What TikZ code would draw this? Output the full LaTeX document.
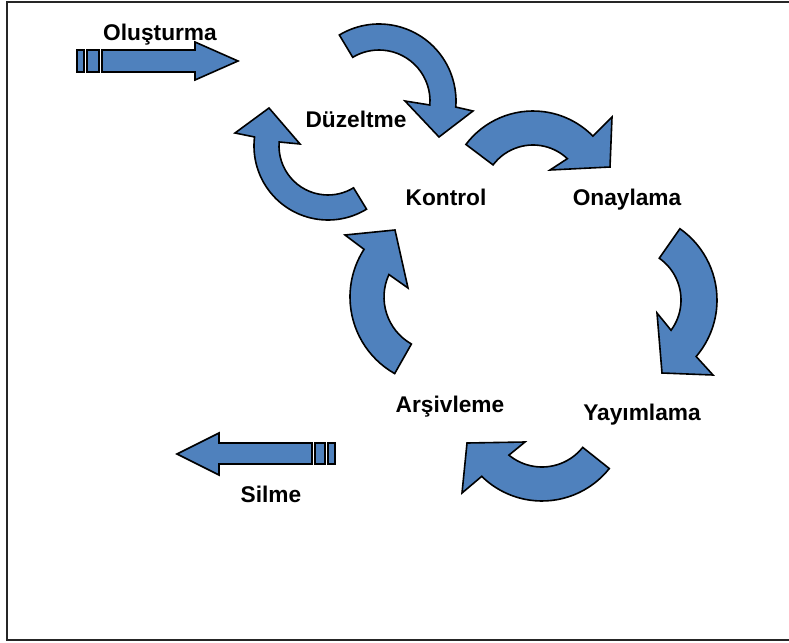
\documentclass[tikz,border=0pt]{standalone}
\usepackage{fontspec}
\setmainfont{Liberation Sans}
\usepackage{tikz}
\usetikzlibrary{calc}

\definecolor{arrowblue}{HTML}{4F81BD}

% curved block arrow: center, inner r, outer R, tail angle, outer neck, inner neck, outer barb, tip, inner barb
\newcommand{\cyclearrow}[9]{%
  \draw[arrowshape] ($(#1)+(#4:#3)$) arc[start angle=#4, end angle=#5, radius=#3]
    -- #7 -- #8 -- #9 -- ($(#1)+(#6:#2)$) arc[start angle=#6, end angle=#4, radius=#2] -- cycle;}

\begin{document}
\begin{tikzpicture}[
    x=1pt, y=-1pt,
    arrowshape/.style={draw=black, line width=1.6pt, fill=arrowblue, line join=miter},
    lbl/.style={font=\bfseries\fontsize{22.7}{27}\selectfont, anchor=base, inner sep=0pt}
]
    \useasboundingbox (0,0) rectangle (789,642);

    % frame
    \draw[line width=2.5pt, black!85] (789,2) -| (7,640) -- (789,640);

    % labels
    \node[lbl] (olusturma) at (160,41) {Oluşturma};
    \node[lbl] (duzeltme) at (356,127) {Düzeltme};
    \node[lbl] (kontrol) at (446,205) {Kontrol};
    \node[lbl] (onaylama) at (627,205) {Onaylama};
    \node[lbl] (yayimlama) at (642,420) {Yayımlama};
    \node[lbl] (arsivleme) at (450,412) {Arşivleme};
    \node[lbl] (silme) at (271,502) {Silme};

    % straight arrows
    \draw[arrowshape] (77,50) rectangle (84,72);
    \draw[arrowshape] (87,50) rectangle (99,72);
    \draw[arrowshape] (102,50) -- (195,50) -- (195,42) -- (238,61) -- (195,80) -- (195,72) -- (102,72) -- cycle;

    \draw[arrowshape] (328,443) rectangle (335,464);
    \draw[arrowshape] (315,443) rectangle (325,464);
    \draw[arrowshape] (312,443) -- (219,443) -- (219,433) -- (177,454) -- (219,475) -- (219,464) -- (312,464) -- cycle;

    % cycle arrows
    \coordinate (c1) at (379,101);
    \coordinate (c2) at (533,195);
    \coordinate (c3) at (630,300);
    \coordinate (c4) at (542,415);
    \coordinate (c5) at (438,297);
    \coordinate (c6) at (328,146);

    \cyclearrow{c1}{51}{77}{-121}{4.5}{4.5}{(473,111)}{(439,137)}{(405,101)}
    \cyclearrow{c2}{50}{84}{-143}{-44.5}{-46.6}{(612,117)}{(610,167)}{(550,170)}
    \cyclearrow{c3}{51}{87}{-55}{40.5}{36.4}{(713,375)}{(662,373)}{(657,313)}
    \cyclearrow{c4}{52}{86}{38.5}{134.5}{129.5}{(462,493)}{(467,443)}{(525,442)}
    \cyclearrow{c5}{54}{88}{119.5}{212.8}{204.6}{(345,235)}{(395,230)}{(408,288)}
    \cyclearrow{c6}{49}{74}{58.6}{187}{184.7}{(235,133)}{(269,108)}{(300,144)}
\end{tikzpicture}
\end{document}
